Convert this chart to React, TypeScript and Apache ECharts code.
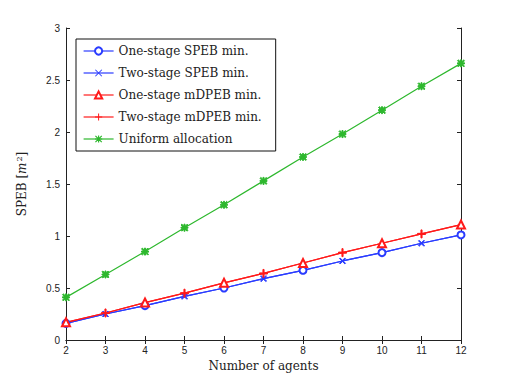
import React, { useEffect, useRef } from "react";
import * as echarts from "echarts";

const agents = [2, 3, 4, 5, 6, 7, 8, 9, 10, 11, 12];
const oneStageSPEB = [0.16, 0.25, 0.33, 0.42, 0.5, 0.59, 0.67, 0.76, 0.84, 0.93, 1.01];
const twoStageSPEB = [0.16, 0.25, 0.33, 0.42, 0.5, 0.59, 0.67, 0.76, 0.84, 0.93, 1.01];
const oneStageMDPEB = [0.17, 0.26, 0.36, 0.45, 0.55, 0.64, 0.74, 0.84, 0.93, 1.02, 1.11];
const twoStageMDPEB = [0.17, 0.26, 0.36, 0.45, 0.55, 0.64, 0.74, 0.84, 0.93, 1.02, 1.11];
const uniform = [0.41, 0.63, 0.85, 1.08, 1.3, 1.53, 1.76, 1.98, 2.21, 2.44, 2.66];
const seriesNames = [
  "One-stage SPEB min.",
  "Two-stage SPEB min.",
  "One-stage mDPEB min.",
  "Two-stage mDPEB min.",
  "Uniform allocation",
];

const BLUE = "#2a3cff";
const RED = "#ff1a1a";
const GREEN = "#2eb82e";

const X_PATH = "path://M0,1L1,0L10,9L9,10Z M9,0L10,1L1,10L0,9Z";
const PLUS_PATH = "path://M4.3,0H5.7V4.3H10V5.7H5.7V10H4.3V5.7H0V4.3H4.3Z";
const STAR_PATH =
  "path://M4.2,0H5.8V4.2H10V5.8H5.8V10H4.2V5.8H0V4.2H4.2Z M0,1.2L1.2,0L10,8.8L8.8,10Z M8.8,0L10,1.2L1.2,10L0,8.8Z";

function withMarkers(values: number[], show: (i: number) => boolean) {
  return agents.map((a, i) =>
    show(i) ? [a, values[i]] : { value: [a, values[i]], symbol: "none" }
  );
}

export default function App() {
  const ref = useRef<HTMLDivElement>(null);
  useEffect(() => {
    if (!ref.current) return;
    const chart = echarts.init(ref.current, undefined, { renderer: "svg" });
    const serif = "DejaVu Serif";
    const axisCommon = {
      min: 0,
      axisLine: { show: true, lineStyle: { color: "#222", width: 1 } },
      axisTick: { show: true, inside: true, length: 4, lineStyle: { color: "#222" } },
      splitLine: { show: false },
    };
    const lineBase = (color: string) => ({
      type: "line" as const,
      color,
      lineStyle: { color, width: 1.2 },
      itemStyle: { color, borderColor: color },
      z: 3,
    });
    chart.setOption({
      animation: false,
      backgroundColor: "#fff",
      grid: { left: 66, right: 47, top: 28, bottom: 42, containLabel: false },
      legend: {
        orient: "vertical",
        left: 76,
        top: 39,
        backgroundColor: "#fff",
        borderColor: "#111",
        borderWidth: 1,
        borderRadius: 0,
        padding: [5, 14, 5, 7],
        itemWidth: 30,
        itemHeight: 9,
        itemGap: 8,
        lineStyle: { width: 1.2 },
        textStyle: { fontFamily: serif, fontSize: 12, color: "#222", lineHeight: 14 },
        data: seriesNames,
      },
      xAxis: [
        {
          ...axisCommon,
          type: "value",
          min: 2,
          max: 12,
          interval: 1,
          name: "Number of agents",
          nameLocation: "middle",
          nameGap: 18,
          nameTextStyle: { fontFamily: serif, fontSize: 12, color: "#222" },
          axisLabel: { fontFamily: "Liberation Sans", fontSize: 10, color: "#222", margin: 5 },
        },
        {
          ...axisCommon,
          type: "value",
          position: "top",
          min: 2,
          max: 12,
          interval: 1,
          axisLabel: { show: false },
        },
      ],
      yAxis: [
        {
          ...axisCommon,
          type: "value",
          min: 0,
          max: 3,
          interval: 0.5,
          name: "SPEB [{i|m}{s|2}]",
          nameLocation: "middle",
          nameGap: 37,
          nameTextStyle: {
            fontFamily: serif,
            fontSize: 12,
            color: "#222",
            rich: {
              i: { fontFamily: serif, fontStyle: "italic", fontSize: 12, color: "#222" },
              s: { fontFamily: serif, fontSize: 8, color: "#222", verticalAlign: "top", padding: [0, 0, 6, 1] },
            },
          },
          axisLabel: { fontFamily: "Liberation Sans", fontSize: 10, color: "#222", margin: 6 },
        },
        {
          ...axisCommon,
          type: "value",
          position: "right",
          min: 0,
          max: 3,
          interval: 0.5,
          axisLabel: { show: false },
        },
      ],
      series: [
        {
          ...lineBase(BLUE),
          name: seriesNames[0],
          symbol: "emptyCircle",
          symbolSize: 7,
          data: withMarkers(oneStageSPEB, (i) => i % 2 === 0),
        },
        {
          ...lineBase(BLUE),
          name: seriesNames[1],
          symbol: X_PATH,
          symbolSize: 6,
          data: withMarkers(twoStageSPEB, (i) => i % 2 === 1),
        },
        {
          ...lineBase(RED),
          name: seriesNames[2],
          symbol: "emptyTriangle",
          symbolSize: 8,
          data: withMarkers(oneStageMDPEB, (i) => i % 2 === 0),
        },
        {
          ...lineBase(RED),
          name: seriesNames[3],
          symbol: PLUS_PATH,
          symbolSize: 8,
          data: withMarkers(twoStageMDPEB, (i) => i % 2 === 1),
        },
        {
          ...lineBase(GREEN),
          name: seriesNames[4],
          symbol: STAR_PATH,
          symbolSize: 7,
          data: withMarkers(uniform, () => true),
        },
      ],
    });
    return () => chart.dispose();
  }, []);
  return <div ref={ref} style={{ width: 508, height: 382, margin: -8 }} />;
}
